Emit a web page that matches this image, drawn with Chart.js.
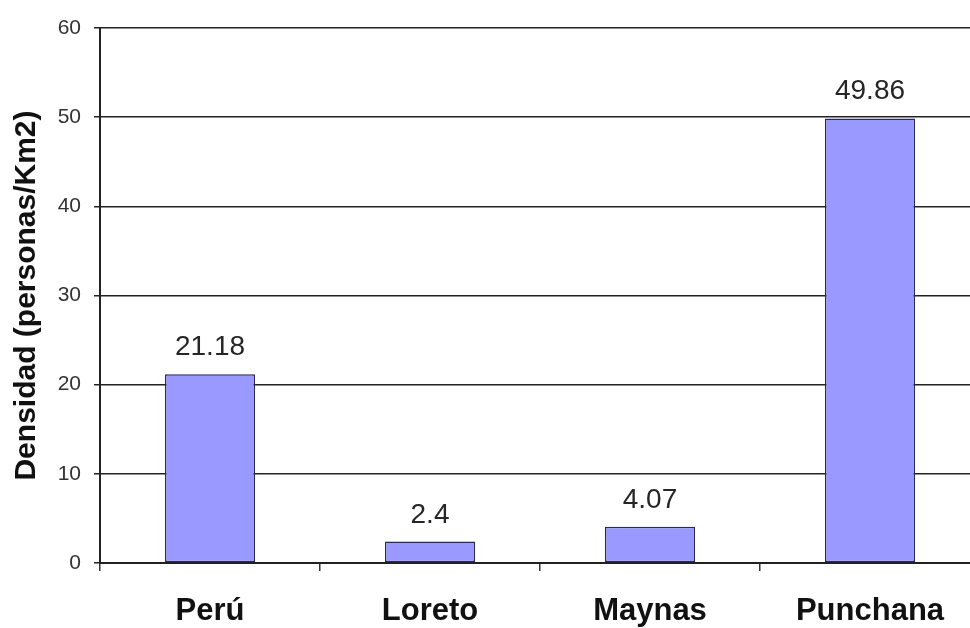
<!DOCTYPE html>
<html>
<head>
<meta charset="utf-8">
<script src="https://cdn.jsdelivr.net/npm/chart.js@4/dist/chart.umd.min.js"></script>
<style>
  html, body { margin: 0; padding: 0; background: #fff; overflow: hidden; }
  #wrap { width: 980px; height: 628px; }
</style>
</head>
<body>
<div id="wrap"><canvas id="c" width="980" height="628"></canvas></div>
<script>
const categories = ["Perú", "Loreto", "Maynas", "Punchana"];
const densidad = [21.18, 2.4, 4.07, 49.86];
const valueLabels = ["21.18", "2.4", "4.07", "49.86"];
const yTicks = [0, 10, 20, 30, 40, 50, 60];
const yTitle = "Densidad (personas/Km2)";

const FONT = "'Liberation Sans', Arial, sans-serif";

const valueLabelPlugin = {
  id: 'valueLabels',
  afterDatasetsDraw(chart) {
    const ctx = chart.ctx;
    const meta = chart.getDatasetMeta(0);
    ctx.save();
    ctx.font = "28px " + FONT;
    ctx.fillStyle = "#262626";
    ctx.textAlign = "center";
    ctx.textBaseline = "alphabetic";
    meta.data.forEach((bar, i) => {
      ctx.fillText(valueLabels[i], bar.x, bar.y - 19);
    });
    ctx.restore();
  }
};

new Chart(document.getElementById('c'), {
  type: 'bar',
  data: {
    labels: categories,
    datasets: [{
      data: densidad,
      backgroundColor: '#9999FF',
      borderColor: '#2A2A58',
      borderWidth: 1.5,
      borderSkipped: false,
      barPercentage: 0.41,
      categoryPercentage: 1.0
    }]
  },
  options: {
    responsive: false,
    animation: false,
    devicePixelRatio: 1,
    layout: { padding: { top: 28, right: 0, bottom: 0, left: 0 } },
    plugins: {
      legend: { display: false },
      tooltip: { enabled: false }
    },
    scales: {
      x: {
        offset: true,
        grid: {
          offset: true,
          drawOnChartArea: false,
          drawTicks: true,
          tickLength: 8,
          color: '#333',
          lineWidth: 1.5
        },
        border: { display: true, color: '#222', width: 2 },
        ticks: {
          color: '#111',
          padding: 22,
          font: { family: FONT, size: 31, weight: 'bold' }
        },
        afterFit(scale) { scale.height = 65; }
      },
      y: {
        min: 0,
        max: 60,
        afterBuildTicks(scale) { scale.ticks = yTicks.map(v => ({ value: v })); },
        grid: {
          color: '#222',
          lineWidth: 1.5,
          drawTicks: true,
          tickLength: 6
        },
        border: { display: true, color: '#222', width: 2 },
        ticks: {
          color: '#333',
          padding: 13,
          font: { family: FONT, size: 21 }
        },
        title: {
          display: true,
          text: yTitle,
          color: '#111',
          padding: { top: 9, bottom: 0 },
          font: { family: FONT, size: 30, weight: 'bold' }
        },
        afterFit(scale) { scale.width = 100; }
      }
    }
  },
  plugins: [valueLabelPlugin]
});
</script>
</body>
</html>
